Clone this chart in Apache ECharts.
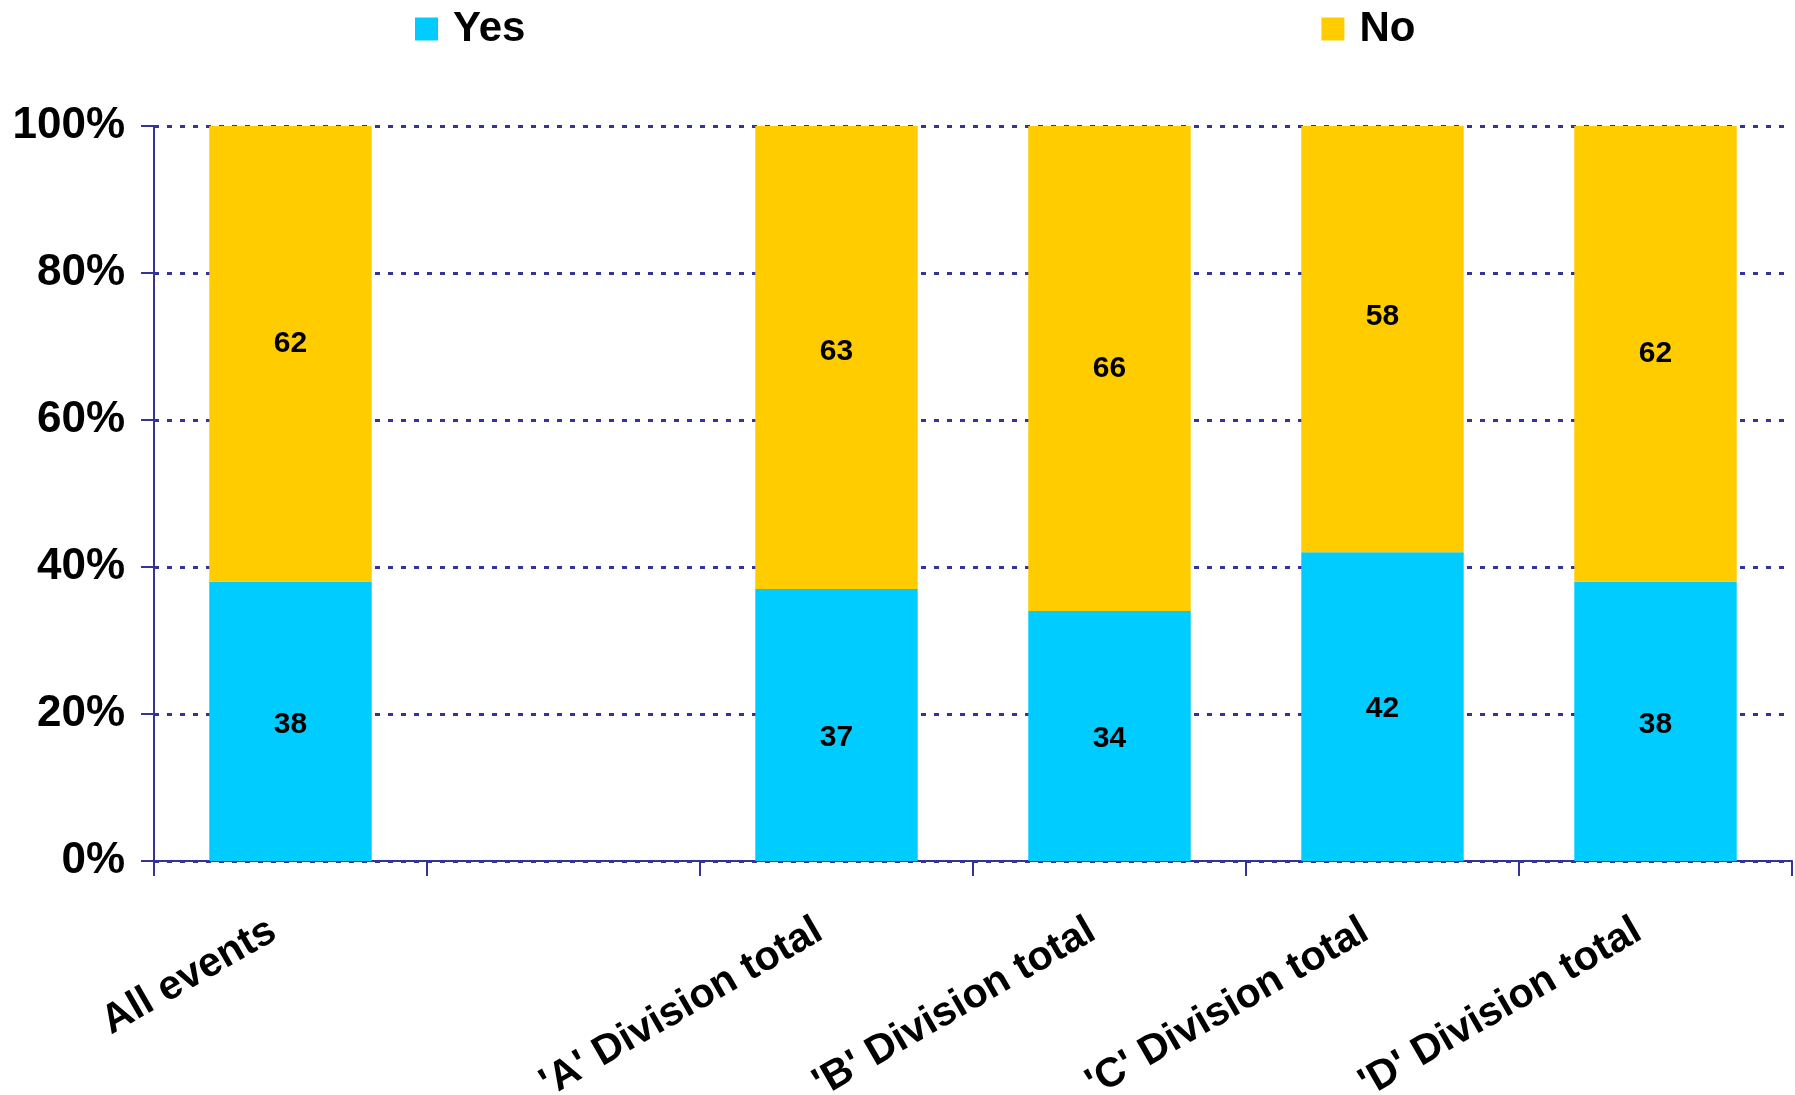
<!DOCTYPE html>
<html>
<head>
<meta charset="utf-8">
<script src="https://cdn.jsdelivr.net/npm/echarts@6/dist/echarts.min.js"></script>
<style>
html,body{margin:0;padding:0;background:#fff;}
#chart{width:1795px;height:1095px;}
</style>
</head>
<body>
<div id="chart"></div>
<script>
const categories = ["All events", "", "'A' Division total", "'B' Division total", "'C' Division total", "'D' Division total"];
const yesValues = [38, null, 37, 34, 42, 38];
const noValues = [62, null, 63, 66, 58, 62];
const yTicks = [0, 20, 40, 60, 80, 100];

// small vertical nudges of the value labels (px), as placed in the original
const yesLabelNudge = [3, 0, 13, 3, 2, 3];
const noLabelNudge = [-10, 0, -6, 0, -22, 0];

const AXIS = '#333399';
const FONT = '"Liberation Sans", Arial, sans-serif';

function withNudge(values, nudges) {
  return values.map(function (v, i) {
    if (v === null) return null;
    return { value: v, label: { offset: [0, nudges[i]] } };
  });
}

const valueLabel = { show: true, position: 'inside', fontFamily: FONT, fontWeight: 'bold', fontSize: 30, color: '#000' };

const chart = echarts.init(document.getElementById('chart'));
chart.setOption({
  animation: false,
  backgroundColor: '#ffffff',
  legend: {
    left: 410, top: 3,
    itemWidth: 23, itemHeight: 23,
    itemGap: 796,
    icon: 'rect',
    textStyle: { fontFamily: FONT, fontWeight: 'bold', fontSize: 42, color: '#000', padding: [0, 0, 0, 10] },
    data: ['Yes', 'No']
  },
  grid: { left: 154, right: 3, top: 126, bottom: 234, containLabel: false, outerBoundsMode: 'none' },
  xAxis: {
    type: 'category',
    data: categories,
    boundaryGap: true,
    axisLine: { lineStyle: { color: AXIS, width: 2 } },
    axisTick: { show: true, length: 15, lineStyle: { color: AXIS, width: 2 } },
    axisLabel: {
      interval: 0, rotate: 30, margin: 57,
      padding: [0, 20, 0, 0],
      fontFamily: FONT, fontWeight: 'bold', fontSize: 41, color: '#000'
    }
  },
  yAxis: {
    type: 'value', min: 0, max: 100, interval: 20,
    axisLine: { show: true, lineStyle: { color: AXIS, width: 2 } },
    axisTick: { show: true, length: 13, lineStyle: { color: AXIS, width: 2 } },
    axisLabel: {
      margin: 29,
      formatter: function (v) { return yTicks.indexOf(v) >= 0 ? v + '%' : ''; },
      fontFamily: FONT, fontWeight: 'bold', fontSize: 44, color: '#000'
    },
    splitLine: { show: true, lineStyle: { color: AXIS, width: 3, type: [5, 8] } }
  },
  series: [
    {
      name: 'Yes', type: 'bar', stack: 'total', data: withNudge(yesValues, yesLabelNudge),
      barWidth: '59.5%',
      itemStyle: { color: '#00CCFF' },
      label: valueLabel
    },
    {
      name: 'No', type: 'bar', stack: 'total', data: withNudge(noValues, noLabelNudge),
      barWidth: '59.5%',
      itemStyle: { color: '#FFCC00' },
      label: valueLabel
    }
  ]
});
</script>
</body>
</html>
